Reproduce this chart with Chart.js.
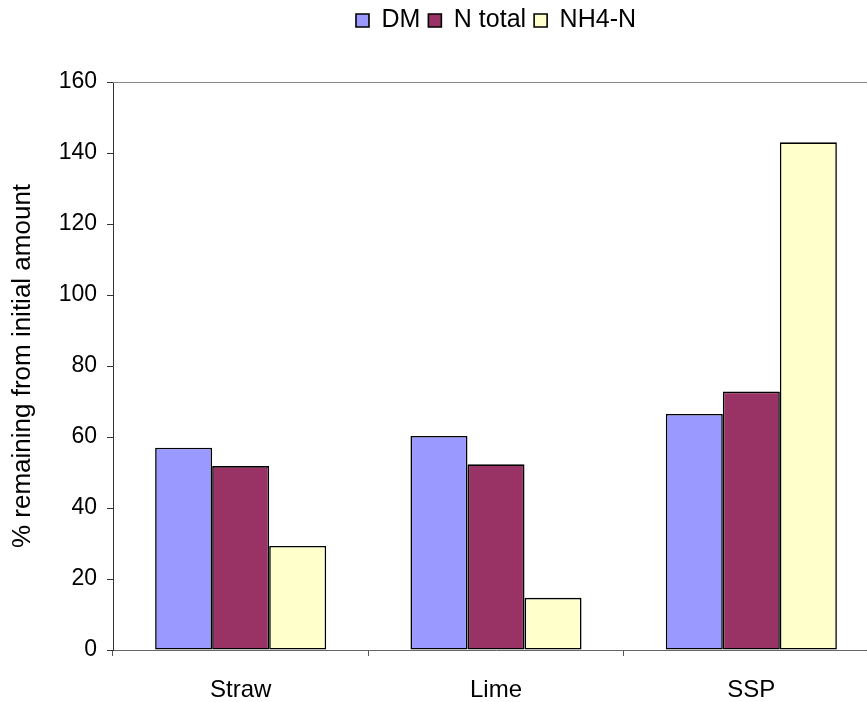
<!DOCTYPE html>
<html>
<head>
  <meta charset="UTF-8">
  <title>% remaining from initial amount</title>
  <script src="https://cdn.jsdelivr.net/npm/chart.js"></script>
  <style>
    html, body { margin: 0; padding: 0; background: #fff; overflow: hidden; }
    #wrap { width: 900px; height: 702px; }
  </style>
</head>
<body>
  <div id="wrap"><canvas id="chart" width="900" height="702"></canvas></div>

  <script>
    // data
    const categories = ['Straw', 'Lime', 'SSP'];
    const seriesNames = ['DM', 'N total', 'NH4-N'];
    const dmValues = [57, 60.3, 66.5];
    const nTotalValues = [51.8, 52.3, 72.8];
    const nh4Values = [29.3, 14.7, 143];
    const seriesColors = ['#9999FF', '#993366', '#FFFFCC'];

    const fontFamily = 'Arial, "Liberation Sans", sans-serif';

    // grey line along the top of the plot area
    const topLine = {
      id: 'topLine',
      afterDraw(chart) {
        const a = chart.chartArea;
        const ctx = chart.ctx;
        ctx.save();
        ctx.strokeStyle = '#888888';
        ctx.lineWidth = 1;
        ctx.beginPath();
        ctx.moveTo(a.left, a.top + 0.5);
        ctx.lineTo(a.right, a.top + 0.5);
        ctx.stroke();
        ctx.restore();
      }
    };

    // push the plot down from the legend
    const legendGap = {
      id: 'legendGap',
      beforeInit(chart) {
        const fit = chart.legend.fit;
        chart.legend.fit = function () {
          fit.bind(chart.legend)();
          this.height += 39;
        };
      }
    };

    const values = [dmValues, nTotalValues, nh4Values];
    const datasets = seriesNames.map((name, i) => ({
      label: name,
      data: values[i],
      backgroundColor: seriesColors[i],
      borderColor: '#000000',
      borderWidth: 1.6,
      borderSkipped: false,
      barPercentage: 1.0,
      categoryPercentage: 0.67
    }));

    new Chart(document.getElementById('chart'), {
      type: 'bar',
      data: { labels: categories, datasets: datasets },
      plugins: [topLine, legendGap],
      options: {
        responsive: false,
        animation: false,
        layout: { padding: { top: 0, right: 21, left: 0, bottom: 0 } },
        plugins: {
          legend: {
            position: 'top',
            fullSize: false,
            labels: {
              color: '#000',
              font: { family: fontFamily, size: 25 },
              boxWidth: 13,
              boxHeight: 13,
              padding: 8
            }
          },
          tooltip: { enabled: false }
        },
        scales: {
          x: {
            offset: true,
            grid: { offset: true, drawOnChartArea: false, drawTicks: true, tickLength: 6, color: '#555' },
            border: { display: true, color: '#666666', width: 1 },
            ticks: { color: '#000', padding: 20, font: { family: fontFamily, size: 24 } },
            afterFit(scale) { scale.height = 52; }
          },
          y: {
            min: 0,
            max: 160,
            ticks: { stepSize: 20, color: '#000', padding: 10, font: { family: fontFamily, size: 23 } },
            grid: { drawOnChartArea: false, drawTicks: true, tickLength: 6, color: '#333' },
            border: { display: true, color: '#333333', width: 1 },
            title: {
              display: true,
              text: '% remaining from initial amount',
              color: '#000',
              font: { family: fontFamily, size: 26 },
              padding: { top: 7, bottom: 0 }
            },
            afterFit(scale) { scale.width = 113; }
          }
        }
      }
    });
  </script>
</body>
</html>
